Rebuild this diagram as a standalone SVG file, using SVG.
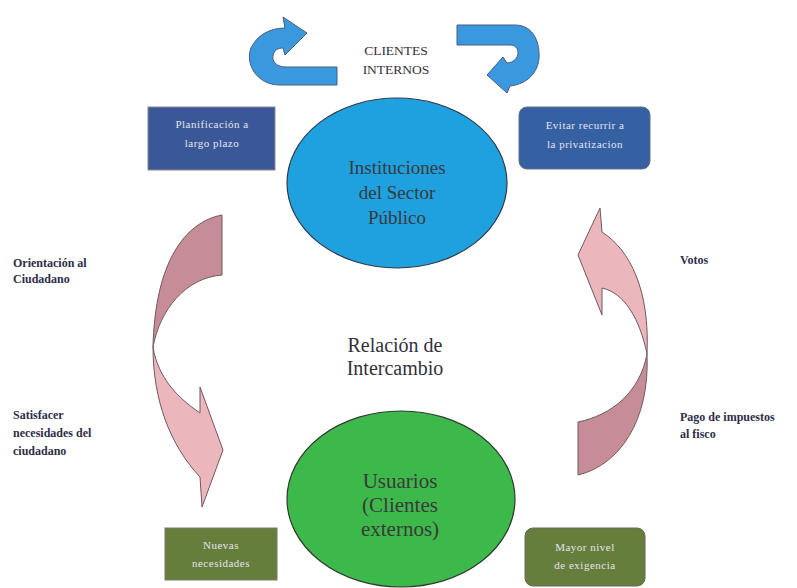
<svg xmlns="http://www.w3.org/2000/svg" width="797" height="588" viewBox="0 0 797 588">
<style>
.lbl{font-family:"Liberation Serif",serif;font-weight:bold;font-size:12px;fill:#2e2e48}
.box{font-family:"Liberation Serif",serif;font-size:11px;fill:#e4e4ee;text-anchor:middle;letter-spacing:0.5px}
.ell{font-family:"Liberation Serif",serif;fill:#3a3a3a;text-anchor:middle}
.ttl{font-family:"Liberation Serif",serif;fill:#33303c;text-anchor:middle}
.blue{fill:#3a98de;stroke:#4b5d78;stroke-width:1}
.pinkD{fill:#c78d96;stroke:#6e5a5e;stroke-width:1}
.pinkL{fill:#ebb6bc;stroke:#6e5a5e;stroke-width:1}
</style>
<rect width="797" height="588" fill="#ffffff"/>

<g id="connectors">
  <path class="blue" d="M337,67 L286,67 C276,67 272,61 273,56 C274,50 278,48 283,48 L285,55 L307,33 L283,17 L285,28 C270,28 257,35 251,48 C245,63 256,85 280,85 L337,85 Z"/>
  <path class="blue" d="M457,25 L515,25 C535,25 540,45 539,58 C538,72 528,84 510,86 L507,93 L487,75 L503,57 L507,63 C513,63 518,58 518,53 C518,48 515,45 510,45 L457,45 Z"/>
  <path class="pinkD" d="M222,215 C185,222 155,262 153,347 C160,310 185,278 222,275 Z"/>
  <path class="pinkL" d="M153,347 C153,400 170,445 200,477 L202,507 L223,450 L200,387 L200,413 C178,398 158,378 153,347 Z"/>
  <path class="pinkL" d="M600,208 L602,232 C630,250 650,290 647,354 C640,320 625,293 602,288 L602,315 L578,255 Z"/>
  <path class="pinkD" d="M647,354 C650,420 620,465 578,475 L578,422 C612,415 640,392 647,354 Z"/>
</g>

<g id="clientes-internos">
  <text class="ttl" x="396" y="55" font-size="13.5">CLIENTES</text>
  <text class="ttl" x="396" y="74" font-size="13.5">INTERNOS</text>
</g>

<g id="instituciones">
  <ellipse cx="397" cy="183" rx="110" ry="85" fill="#1fa0df" stroke="#2f3a44" stroke-width="1.2"/>
  <text class="ell" x="397" y="174" font-size="19">Instituciones</text>
  <text class="ell" x="397" y="199" font-size="19">del Sector</text>
  <text class="ell" x="397" y="224" font-size="19">Público</text>
</g>

<g id="usuarios">
  <ellipse cx="401" cy="499" rx="114" ry="88" fill="#3db84b" stroke="#2f3a30" stroke-width="1.2"/>
  <text class="ell" x="400" y="488" font-size="21">Usuarios</text>
  <text class="ell" x="400" y="512" font-size="21">(Clientes</text>
  <text class="ell" x="400" y="536" font-size="21">externos)</text>
</g>

<g id="relacion">
  <text class="ttl" x="395" y="352" font-size="20">Relación de</text>
  <text class="ttl" x="395" y="375" font-size="20">Intercambio</text>
</g>

<g id="planificacion">
  <rect x="148" y="107" width="127" height="63" fill="#3a5898" stroke="#8a8a8a" stroke-width="1"/>
  <text class="box" x="212" y="128">Planificación a</text>
  <text class="box" x="212" y="147">largo plazo</text>
</g>

<g id="evitar">
  <rect x="519" y="107" width="131" height="62" rx="8" fill="#3560a2" stroke="#6a7080" stroke-width="1"/>
  <text class="box" x="585" y="129">Evitar recurrir a</text>
  <text class="box" x="585" y="148">la privatizacion</text>
</g>

<g id="nuevas">
  <rect x="165" y="528" width="112" height="52" fill="#667e3c" stroke="#7a7a6a" stroke-width="1"/>
  <text class="box" x="221" y="549">Nuevas</text>
  <text class="box" x="221" y="567">necesidades</text>
</g>

<g id="mayor">
  <rect x="525" y="528" width="120" height="58" rx="8" fill="#667e3c" stroke="#6a6a5a" stroke-width="1"/>
  <text class="box" x="585" y="551">Mayor nivel</text>
  <text class="box" x="585" y="569">de exigencia</text>
</g>

<g id="labels-left">
  <text class="lbl" x="13" y="267">Orientación al</text>
  <text class="lbl" x="13" y="283">Ciudadano</text>
  <text class="lbl" x="13" y="419">Satisfacer</text>
  <text class="lbl" x="13" y="437">necesidades del</text>
  <text class="lbl" x="13" y="455">ciudadano</text>
</g>

<g id="labels-right">
  <text class="lbl" x="680" y="264">Votos</text>
  <text class="lbl" x="680" y="421">Pago de impuestos</text>
  <text class="lbl" x="680" y="438">al fisco</text>
</g>
</svg>
